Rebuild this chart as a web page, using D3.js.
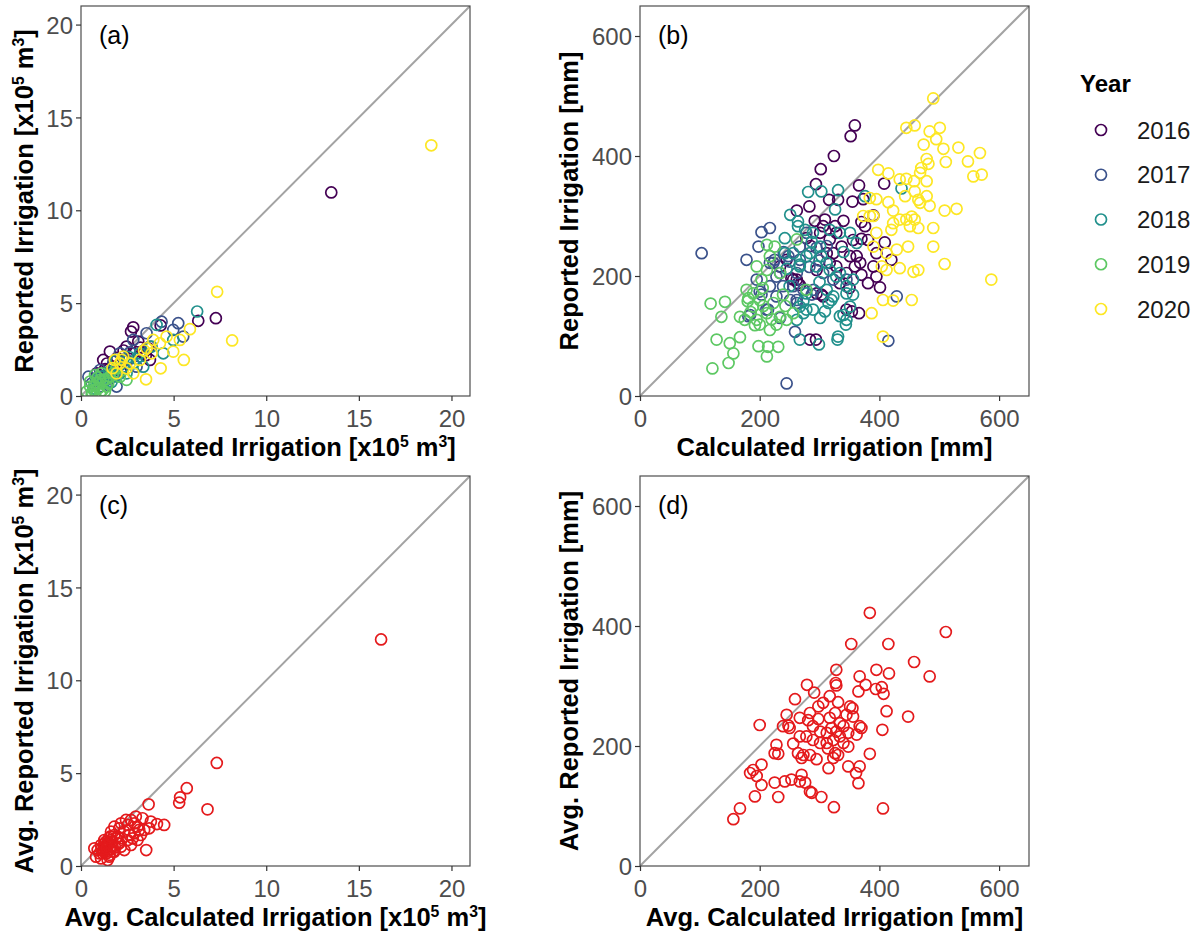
<!DOCTYPE html>
<html>
<head>
<meta charset="utf-8">
<script src="https://cdn.jsdelivr.net/npm/d3@7"></script>
<style>
  html, body { margin: 0; padding: 0; background: #ffffff; }
  svg { display: block; font-family: "Liberation Sans", Arial, sans-serif; }
</style>
</head>
<body>
<svg id="chart" width="1204" height="936"></svg>
<script>
// ---- Data -------------------------------------------------------------
const years = ["2016", "2017", "2018", "2019", "2020"];
const yearColors = ["#440154", "#3B528B", "#21908C", "#5DC863", "#FDE725"];

// Panel (a): field volumes [x10^5 m3] per year, [calculated, reported]
const volume2016 = [[13.51,10.96],[7.28,4.19],[6.33,4.05],[2.82,3.70],[2.70,3.47],[4.30,3.80],[3.63,2.57],[3.36,2.30],[2.82,2.30],[1.56,2.39],[1.20,1.94],[2.46,2.66],[3.72,1.94],[2.10,1.67],[3.09,2.93],[1.74,1.58],[0.85,1.22],[2.30,2.45],[3.50,2.20],[1.40,1.75],[1.95,2.05],[2.60,2.00],[1.30,1.45],[3.20,2.60],[0.95,0.80],[2.15,1.30]];
const volume2017 = [[4.35,4.00],[5.25,3.92],[4.98,3.56],[5.52,3.20],[3.54,3.38],[0.40,1.04],[1.03,1.40],[1.92,0.51],[1.38,0.87],[2.46,1.94],[3.00,1.58],[2.10,2.30],[3.72,2.66],[1.03,0.51],[0.58,0.68],[2.82,3.02],[1.60,1.20],[2.20,1.40],[1.25,1.10],[0.80,0.95],[1.75,1.85],[2.65,2.35],[1.45,0.60]];
const volume2018 = [[6.27,4.55],[4.44,2.30],[4.08,3.83],[3.18,2.30],[2.82,1.76],[2.28,1.58],[1.74,1.04],[1.20,0.68],[3.36,1.58],[2.46,1.22],[3.81,2.66],[4.98,3.02],[1.92,1.94],[0.85,0.87],[1.50,1.30],[2.60,2.10],[1.10,1.05],[2.00,1.15],[3.00,2.00],[1.65,0.75],[0.70,0.40]];
const volume2019 = [[1.03,0.15],[0.67,0.33],[0.49,0.51],[0.85,0.68],[1.20,0.87],[1.38,0.51],[1.56,1.04],[0.31,0.24],[0.58,0.06],[1.03,0.87],[1.74,1.22],[0.76,1.13],[1.11,1.22],[1.92,1.49],[0.94,0.42],[1.47,0.68],[0.49,0.78],[1.29,0.24],[2.10,1.04],[2.46,0.87],[0.70,0.55],[1.15,0.30],[0.90,1.00],[1.35,0.90],[0.60,0.20]];
const volume2020 = [[18.91,13.50],[7.35,5.61],[8.16,2.99],[5.88,3.60],[5.55,1.94],[4.30,1.49],[3.51,0.90],[4.98,2.39],[4.26,2.84],[4.62,3.20],[5.34,3.02],[3.90,3.02],[3.54,2.57],[2.28,2.12],[2.10,1.76],[2.46,1.49],[1.83,1.94],[2.82,1.22],[3.18,1.94],[3.81,2.30],[1.92,1.22],[2.64,1.76],[2.20,1.95],[3.40,2.45],[1.70,1.50]];

// Panel (b): field depths [mm] per year, [calculated, reported]
const depth2016 = [[359,451],[352,433],[324,400],[302,378],[294,353],[366,351],[408,354],[355,324],[316,327],[331,327],[373,328],[283,316],[262,309],[390,301],[292,292],[309,294],[326,283],[370,290],[376,283],[409,256],[370,262],[381,260],[278,263],[301,272],[317,261],[337,249],[323,238],[351,233],[368,222],[395,238],[420,227],[390,216],[359,216],[345,205],[370,202],[395,199],[381,188],[401,181],[262,194],[253,196],[267,185],[295,210],[303,169],[354,141],[366,138],[284,94],[294,94],[234,216],[245,227],[334,188],[317,222],[328,216],[312,238],[362,233],[256,194],[264,188],[295,171],[306,166],[345,144],[356,260],[328,272],[306,283],[340,292],[285,250],[350,180]];
const depth2017 = [[103,238],[203,273],[217,280],[198,249],[178,227],[195,194],[203,169],[214,144],[184,135],[234,130],[245,21],[259,107],[415,92],[429,166],[248,233],[223,222],[228,199],[217,183],[251,160],[262,155],[278,272],[267,249],[295,247],[306,205],[323,194],[345,194],[256,183],[239,183],[267,227],[290,177],[217,222],[225,227],[234,205],[200,174],[228,166],[181,133],[211,144],[250,224],[262,205],[273,177],[287,169],[262,160],[283,215],[300,226],[312,250],[240,240]];
const depth2018 = [[281,340],[303,341],[331,343],[326,311],[251,302],[242,263],[264,291],[351,272],[376,333],[317,277],[334,272],[301,249],[284,238],[267,216],[295,216],[317,210],[334,205],[356,194],[312,177],[323,166],[345,171],[356,169],[278,171],[267,149],[273,138],[262,127],[278,144],[301,130],[309,141],[315,155],[340,135],[345,127],[344,119],[331,99],[330,94],[299,86],[267,94],[303,233],[256,238],[289,272],[276,277],[242,238],[362,255],[437,346],[264,283],[287,257],[312,222],[328,199],[345,183],[351,149],[334,133],[289,144],[273,158],[320,160],[250,183],[245,212],[278,233],[267,219],[340,240],[300,190]];
const depth2019 = [[118,154],[142,157],[136,132],[128,94],[121,46],[148,55],[150,88],[156,71],[167,98],[167,132],[175,127],[181,163],[189,149],[195,127],[200,119],[198,83],[214,82],[212,66],[231,82],[217,110],[228,119],[234,132],[245,127],[212,138],[223,155],[200,160],[189,171],[178,177],[203,194],[212,210],[195,216],[217,233],[225,249],[212,252],[234,205],[239,169],[256,138],[278,177],[262,261],[185,140],[206,150],[220,128],[192,118],[180,158],[243,150],[205,180]];
const depth2020 = [[490,496],[445,447],[459,451],[484,441],[501,447],[495,428],[474,419],[507,412],[532,414],[568,405],[548,391],[511,390],[479,395],[482,387],[470,380],[468,372],[479,358],[557,366],[571,369],[398,377],[415,371],[434,361],[445,362],[458,358],[459,341],[384,330],[395,328],[415,323],[423,309],[443,333],[465,327],[479,333],[468,322],[484,317],[509,309],[529,312],[384,300],[390,300],[423,288],[420,277],[445,294],[454,299],[459,294],[451,283],[465,280],[490,280],[448,249],[490,249],[429,244],[412,238],[404,216],[412,210],[434,213],[457,207],[465,210],[509,220],[587,194],[406,160],[423,159],[454,160],[387,138],[406,99],[390,249],[395,272],[373,300],[434,294]];

// Panel (c): field averages over all years [x10^5 m3], [calculated, reported]
const avgVolume = [[16.2,12.2],[7.33,5.55],[5.71,4.19],[5.35,3.70],[5.30,3.41],[6.83,3.05],[3.65,3.32],[4.49,2.21],[4.10,2.26],[3.52,0.86],[3.32,2.57],[2.96,2.66],[2.70,2.48],[3.05,2.12],[3.41,1.94],[3.23,1.67],[2.88,1.76],[2.52,2.21],[2.16,2.30],[1.80,2.12],[2.34,1.85],[1.98,1.58],[1.62,1.40],[1.44,1.22],[1.26,1.04],[1.08,1.13],[0.90,0.86],[0.72,0.95],[1.17,0.68],[1.53,0.50],[1.80,0.77],[2.16,1.04],[2.52,1.40],[2.79,1.49],[3.05,1.40],[2.07,1.22],[1.71,1.04],[1.35,0.77],[1.08,0.41],[0.81,0.50],[0.99,0.68],[1.44,0.32],[2.34,0.86],[2.70,1.13],[2.61,1.67],[3.68,2.03],[3.77,2.39],[2.07,2.03],[2.43,2.48],[2.88,2.30],[3.14,1.94],[1.80,1.67],[1.62,1.85],[1.26,1.40],[1.30,1.00],[1.50,1.20],[1.60,0.90],[1.40,0.70],[1.70,1.30],[1.20,0.80],[1.45,1.10],[1.55,0.60],[1.35,1.30],[1.65,1.10],[1.90,1.50],[2.00,1.20],[1.10,0.90],[1.75,0.80],[1.50,1.50],[1.25,1.20],[1.85,1.00],[1.40,0.95],[1.60,1.60],[2.20,1.50]];

// Panel (d): field averages over all years [mm], [calculated, reported]
const avgDepth = [[384,422],[511,390],[353,370],[415,370],[458,340],[484,316],[328,327],[395,327],[416,321],[367,316],[327,305],[328,301],[279,302],[291,289],[377,302],[404,298],[394,295],[365,291],[407,287],[259,278],[317,283],[306,272],[298,266],[331,273],[351,266],[355,263],[412,258],[448,249],[200,235],[245,252],[239,233],[248,234],[250,230],[267,247],[281,243],[284,255],[298,245],[317,247],[326,255],[334,238],[345,252],[356,249],[367,233],[370,230],[289,233],[301,224],[312,222],[320,230],[328,224],[340,233],[348,222],[362,219],[405,227],[267,216],[278,216],[289,210],[301,205],[312,205],[323,210],[334,216],[340,205],[348,199],[228,202],[225,188],[231,187],[256,204],[264,188],[270,180],[273,185],[284,185],[295,178],[314,196],[326,188],[331,185],[323,180],[384,187],[203,169],[184,155],[189,160],[195,150],[225,139],[242,141],[253,144],[267,141],[276,139],[270,152],[203,135],[284,124],[287,122],[303,115],[348,166],[367,166],[361,155],[365,138],[315,163],[192,116],[231,115],[167,96],[156,78],[324,98],[406,96]];

const volumeTicks = [0, 5, 10, 15, 20];
const depthTicks = [0, 200, 400, 600];
const avgColor = "#E41A1C";

// ---- Drawing ----------------------------------------------------------
const svg = d3.select("#chart");
const FONT = '"Liberation Sans", Arial, sans-serif';
const TICK_SIZE = 24;
const TITLE_SIZE = 25.5;

// Axis titles with superscripts built from tspans
function titleText(sel, parts) {
  parts.forEach(p => {
    if (p.sup) {
      sel.append("tspan").attr("font-size", "0.62em").attr("baseline-shift", "55%").text(p.t);
    } else {
      sel.append("tspan").text(p.t);
    }
  });
}

function panel(cfg) {
  const x = d3.scaleLinear().domain([0, cfg.max]).range([cfg.left, cfg.right]);
  const y = d3.scaleLinear().domain([0, cfg.max]).range([cfg.bottom, cfg.top]);
  const g = svg.append("g");

  const clipId = "clip-" + cfg.label;
  svg.append("defs").append("clipPath").attr("id", clipId)
    .append("rect").attr("x", cfg.left).attr("y", cfg.top)
    .attr("width", cfg.right - cfg.left).attr("height", cfg.bottom - cfg.top);

  // 1:1 line
  g.append("line")
    .attr("clip-path", `url(#${clipId})`)
    .attr("x1", x(0)).attr("y1", y(0)).attr("x2", x(cfg.max)).attr("y2", y(cfg.max))
    .attr("stroke", "#A3A3A3").attr("stroke-width", 2);

  // points
  const pts = g.append("g").attr("clip-path", `url(#${clipId})`);
  cfg.series.forEach(s => {
    pts.selectAll(null).data(s.values).enter().append("circle")
      .attr("cx", d => x(d[0])).attr("cy", d => y(d[1]))
      .attr("r", 5.5)
      .attr("fill", "none").attr("stroke", s.color).attr("stroke-width", 1.7);
  });

  // frame
  g.append("rect")
    .attr("x", cfg.left).attr("y", cfg.top)
    .attr("width", cfg.right - cfg.left).attr("height", cfg.bottom - cfg.top)
    .attr("fill", "none").attr("stroke", "#4D4D4D").attr("stroke-width", 1.2);

  // axes
  const xAxis = g.append("g").attr("transform", `translate(0,${cfg.bottom})`)
    .call(d3.axisBottom(x).tickValues(cfg.ticks).tickSize(5).tickPadding(4).tickFormat(d3.format("d")));
  const yAxis = g.append("g").attr("transform", `translate(${cfg.left},0)`)
    .call(d3.axisLeft(y).tickValues(cfg.ticks).tickSize(5).tickPadding(3).tickFormat(d3.format("d")));
  [xAxis, yAxis].forEach(a => {
    a.select(".domain").remove();
    a.selectAll(".tick line").attr("stroke", "#333333").attr("stroke-width", 1.2);
    a.selectAll(".tick text").attr("fill", "#4D4D4D")
      .attr("font-size", TICK_SIZE).attr("font-family", FONT);
  });
  xAxis.selectAll(".tick text").attr("dy", "0.9em");
  yAxis.selectAll(".tick text").attr("dy", "0.36em");

  // panel tag
  g.append("text").attr("x", cfg.left + 18).attr("y", cfg.top + 38)
    .attr("font-size", 25).attr("fill", "#000").text("(" + cfg.label + ")");

  // axis titles
  const xt = g.append("text")
    .attr("x", (cfg.left + cfg.right) / 2).attr("y", cfg.bottom + 60)
    .attr("text-anchor", "middle").attr("font-weight", "bold")
    .attr("font-size", TITLE_SIZE).attr("fill", "#000");
  titleText(xt, cfg.xTitle);
  const cy = (cfg.top + cfg.bottom) / 2;
  const yt = g.append("text")
    .attr("transform", `translate(${cfg.left - cfg.yTitleGap},${cy}) rotate(-90)`)
    .attr("text-anchor", "middle").attr("font-weight", "bold")
    .attr("font-size", TITLE_SIZE).attr("fill", "#000");
  titleText(yt, cfg.yTitle);
}

const volSeries = [volume2016, volume2017, volume2018, volume2019, volume2020]
  .map((v, i) => ({ values: v, color: yearColors[i] }));
const depSeries = [depth2016, depth2017, depth2018, depth2019, depth2020]
  .map((v, i) => ({ values: v, color: yearColors[i] }));

const unitVol = [{ t: " [x10" }, { t: "5", sup: true }, { t: " m" }, { t: "3", sup: true }, { t: "]" }];

panel({
  label: "a", left: 81, right: 470, top: 6, bottom: 396, max: 21, ticks: volumeTicks,
  series: volSeries, yTitleGap: 48,
  xTitle: [{ t: "Calculated Irrigation" }].concat(unitVol),
  yTitle: [{ t: "Reported Irrigation" }].concat(unitVol)
});
panel({
  label: "b", left: 640, right: 1029, top: 6, bottom: 396, max: 650, ticks: depthTicks,
  series: depSeries, yTitleGap: 62,
  xTitle: [{ t: "Calculated Irrigation [mm]" }],
  yTitle: [{ t: "Reported Irrigation [mm]" }]
});
panel({
  label: "c", left: 81, right: 470, top: 476, bottom: 866, max: 21, ticks: volumeTicks,
  series: [{ values: avgVolume, color: avgColor }], yTitleGap: 48,
  xTitle: [{ t: "Avg. Calculated Irrigation" }].concat(unitVol),
  yTitle: [{ t: "Avg. Reported Irrigation" }].concat(unitVol)
});
panel({
  label: "d", left: 640, right: 1029, top: 476, bottom: 866, max: 650, ticks: depthTicks,
  series: [{ values: avgDepth, color: avgColor }], yTitleGap: 62,
  xTitle: [{ t: "Avg. Calculated Irrigation [mm]" }],
  yTitle: [{ t: "Avg. Reported Irrigation [mm]" }]
});

// ---- Legend -----------------------------------------------------------
const legend = svg.append("g");
legend.append("text").attr("x", 1080).attr("y", 92)
  .attr("font-size", 24).attr("font-weight", "bold").attr("fill", "#000").text("Year");
const legendY = d3.scalePoint().domain(years).range([130, 309]);
years.forEach((yr, i) => {
  legend.append("circle").attr("cx", 1101).attr("cy", legendY(yr)).attr("r", 5.5)
    .attr("fill", "none").attr("stroke", yearColors[i]).attr("stroke-width", 1.7);
  legend.append("text").attr("x", 1137).attr("y", legendY(yr) + 8.5)
    .attr("font-size", 24).attr("fill", "#1A1A1A").text(yr);
});
</script>
</body>
</html>
